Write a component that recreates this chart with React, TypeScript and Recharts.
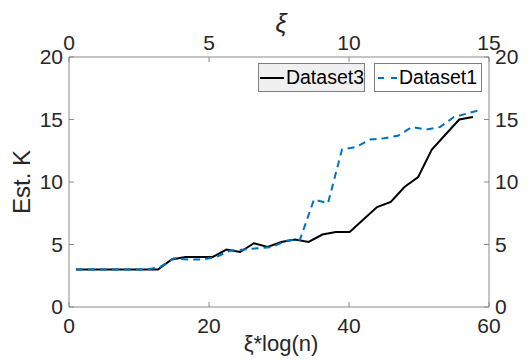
import React from 'react';
import { LineChart, Line, XAxis, YAxis, Label } from 'recharts';

// Dataset3: x = xi * log(n)
const dataset3X = [0.98, 2.93, 4.89, 6.85, 8.8, 10.76, 12.71, 14.67, 16.63, 18.58, 20.54, 22.49, 24.45, 26.41, 28.36, 30.32, 32.27, 34.23, 36.19, 38.14, 40.1, 42.05, 44.01, 45.97, 47.92, 49.88, 51.83, 53.79, 55.75, 57.7];
const dataset3K = [3, 3, 3, 3, 3, 3, 3, 3.8, 4.0, 4.0, 4.0, 4.6, 4.4, 5.1, 4.8, 5.2, 5.4, 5.2, 5.8, 6.0, 6.0, 7.0, 8.0, 8.4, 9.6, 10.4, 12.6, 13.8, 15.0, 15.2];

// Dataset1
const dataset1X = [1, 3, 5, 7, 9, 11, 13, 15, 17, 19, 21, 23, 25, 27, 29, 31, 33, 35, 37, 39, 41, 43, 45, 47, 49, 51, 53, 55, 57, 59];
const dataset1K = [3, 3, 3, 3, 3, 3, 3.2, 3.9, 3.8, 3.8, 4.0, 4.5, 4.6, 4.7, 4.8, 5.3, 5.4, 8.6, 8.3, 12.6, 12.8, 13.4, 13.5, 13.7, 14.4, 14.2, 14.4, 15.2, 15.5, 15.8];

const bottomTicks = [0, 20, 40, 60];
const topTicks = [0, 5, 10, 15];
const yTicks = [0, 5, 10, 15, 20];

const data3 = dataset3X.map((x, i) => ({ x, k: dataset3K[i] }));
const data1 = dataset1X.map((x, i) => ({ x, k: dataset1K[i] }));

const FONT = '"Liberation Sans", Arial, sans-serif';
const TXT = '#262626';
const AX = '#8a8a8a';
const BLUE = '#0072BD';
const tickStyle = { fontSize: 21, fill: TXT, fontFamily: FONT };

const LegendBoxes = () => (
  <div
    style={{
      position: 'absolute',
      left: 250,
      top: 55,
      display: 'flex',
      gap: 9,
      fontFamily: FONT,
      fontSize: 19.5,
      color: '#000',
    }}
  >
    <div style={{ width: 105, height: 27, border: '1px solid #7f7f7f', background: '#f0f0f0', display: 'flex', alignItems: 'center' }}>
      <svg width={27} height={27}>
        <line x1={1} x2={25} y1={14} y2={14} stroke="#000" strokeWidth={2} />
      </svg>
      <span>Dataset3</span>
    </div>
    <div style={{ width: 106, height: 27, border: '1px solid #7f7f7f', background: '#fff', display: 'flex', alignItems: 'center' }}>
      <svg width={24} height={27}>
        <line x1={3} x2={23} y1={14} y2={14} stroke={BLUE} strokeWidth={2} strokeDasharray="6 7" />
      </svg>
      <span>Dataset1</span>
    </div>
  </div>
);

export default function App() {
  return (
    <div style={{ position: 'relative', width: 523, height: 352 }}>
      <LineChart width={523} height={352} margin={{ top: 0, right: 0, bottom: 0, left: 0 }}>
        <XAxis
          xAxisId="bottom"
          dataKey="x"
          type="number"
          domain={[0, 60]}
          ticks={bottomTicks}
          height={53}
          stroke={AX}
          tickSize={-5}
          tickMargin={16}
          tick={tickStyle}
        >
          <Label
            content={() => (
              <text x={273} y={343} textAnchor="middle" fontSize={22} fill={TXT} fontFamily={FONT}>
                ξ*log(n)
              </text>
            )}
          />
        </XAxis>
        <XAxis
          xAxisId="top"
          orientation="top"
          dataKey="x"
          type="number"
          domain={[0, 15]}
          allowDataOverflow
          ticks={topTicks}
          height={49}
          stroke={AX}
          tickSize={-5}
          tickMargin={12}
          tick={tickStyle}
        />
        <YAxis
          yAxisId="left"
          type="number"
          domain={[0, 20]}
          ticks={yTicks}
          width={61}
          stroke={AX}
          tickSize={-5}
          tickMargin={11}
          tick={tickStyle}
        >
          <Label
            content={() => (
              <text x={22} y={174} transform="rotate(-90 22 174)" textAnchor="middle" fontSize={24} fill={TXT} fontFamily={FONT}>
                Est. K
              </text>
            )}
          />
        </YAxis>
        <YAxis
          yAxisId="right"
          orientation="right"
          type="number"
          domain={[0, 20]}
          ticks={yTicks}
          width={42}
          stroke={AX}
          tickSize={-5}
          tickMargin={11}
          tick={tickStyle}
        />
        {/* invisible series so the top and right axes are drawn */}
        <Line
          data={data3}
          dataKey="k"
          xAxisId="top"
          yAxisId="right"
          stroke="transparent"
          dot={false}
          activeDot={false}
          isAnimationActive={false}
        />
        <Line
          data={data3}
          dataKey="k"
          xAxisId="bottom"
          yAxisId="left"
          type="linear"
          stroke="#000"
          strokeWidth={2}
          dot={false}
          isAnimationActive={false}
        />
        <Line
          data={data1}
          dataKey="k"
          xAxisId="bottom"
          yAxisId="left"
          type="linear"
          stroke={BLUE}
          strokeWidth={2}
          strokeDasharray="7 5"
          dot={false}
          isAnimationActive={false}
        />
      </LineChart>
      <div
        style={{
          position: 'absolute',
          left: 253,
          top: 0,
          width: 40,
          textAlign: 'center',
          fontFamily: FONT,
          fontStyle: 'italic',
          fontSize: 25,
          lineHeight: '30px',
          color: TXT,
        }}
      >
        ξ
      </div>
      <LegendBoxes />
    </div>
  );
}
